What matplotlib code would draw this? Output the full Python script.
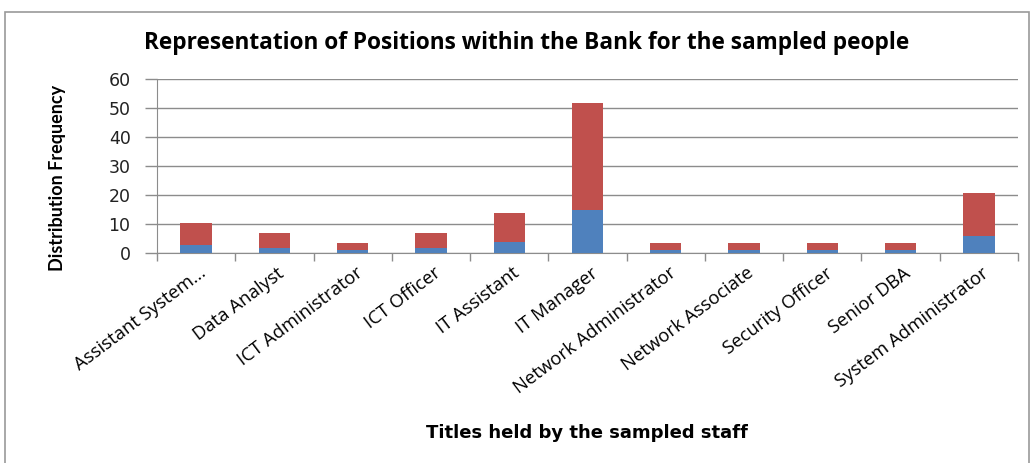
import matplotlib
matplotlib.use("Agg")
import matplotlib.pyplot as plt
from matplotlib.patches import Rectangle
from matplotlib.transforms import ScaledTranslation
import numpy as np

positions = ["Assistant System...", "Data Analyst", "ICT Administrator", "ICT Officer",
             "IT Assistant", "IT Manager", "Network Administrator", "Network Associate",
             "Security Officer", "Senior DBA", "System Administrator"]
frequency = [3, 2, 1, 2, 4, 15, 1, 1, 1, 1, 6]
upper_segment = [7.3, 4.9, 2.4, 4.9, 9.8, 36.7, 2.4, 2.4, 2.4, 2.4, 14.7]
y_ticks = [0, 10, 20, 30, 40, 50, 60]

BLUE = "#4F81BD"
RED = "#C0504D"
GRID = "#8C8C8C"

fig = plt.figure(figsize=(10.33, 4.63), dpi=100)
ax = fig.add_axes([157 / 1033, 1 - 253.3 / 463, (1018 - 157) / 1033, (253.3 - 79.3) / 463])

x = np.arange(len(positions))
ax.bar(x, frequency, width=0.4, color=BLUE, zorder=3)
ax.bar(x, upper_segment, width=0.4, bottom=frequency, color=RED, zorder=3)

ax.set_xlim(-0.5, len(positions) - 0.5)
ax.set_ylim(0, 60)
ax.set_yticks(y_ticks)
ax.set_yticklabels([str(v) for v in y_ticks], fontsize=12.5, family="DejaVu Sans", color="#222222")
ax.yaxis.grid(True, color=GRID, linewidth=1.0, zorder=0)
ax.tick_params(axis="y", length=9, width=1.0, color=GRID, pad=10)

# category labels, slanted, anchored slightly right of each category centre
ax.set_xticks(x)
ax.set_xticklabels([])
label_shift = ax.get_xaxis_transform() + ScaledTranslation(8 / 100, -18 / 100, fig.dpi_scale_trans)
for xi, name in zip(x, positions):
    ax.text(xi, 0, name, transform=label_shift, rotation=37, ha="right", va="center",
            rotation_mode="anchor", fontsize=13.3, family="Open Sans", clip_on=False)
ax.set_xticks(np.arange(len(positions) + 1) - 0.5, minor=True)
ax.tick_params(axis="x", which="major", length=0)
ax.tick_params(axis="x", which="minor", length=6, width=1.0, color=GRID)

for side in ["top", "right"]:
    ax.spines[side].set_visible(False)
ax.spines["left"].set_color(GRID)
ax.spines["bottom"].set_color(GRID)

fig.text(527 / 1033, 1 - 43 / 463, "Representation of Positions within the Bank for the sampled people",
         ha="center", va="center", fontsize=16.3, fontweight="bold", family="Open Sans")
fig.text(58 / 1033, 1 - 178 / 463, "Distribution Frequency", rotation=90,
         ha="center", va="center", fontsize=13, fontweight="bold", family="Lato")
fig.text(587 / 1033, 1 - 433 / 463, "Titles held by the sampled staff",
         ha="center", va="center", fontsize=13, fontweight="bold", family="DejaVu Sans")

# chart frame
fig.add_artist(Rectangle((5 / 1033, -0.05), (1029 - 5) / 1033, 1 - 12 / 463 + 0.05,
                         transform=fig.transFigure, fill=False, edgecolor="#9A9A9A", linewidth=1.2))

fig.savefig("out.png", dpi=100)
